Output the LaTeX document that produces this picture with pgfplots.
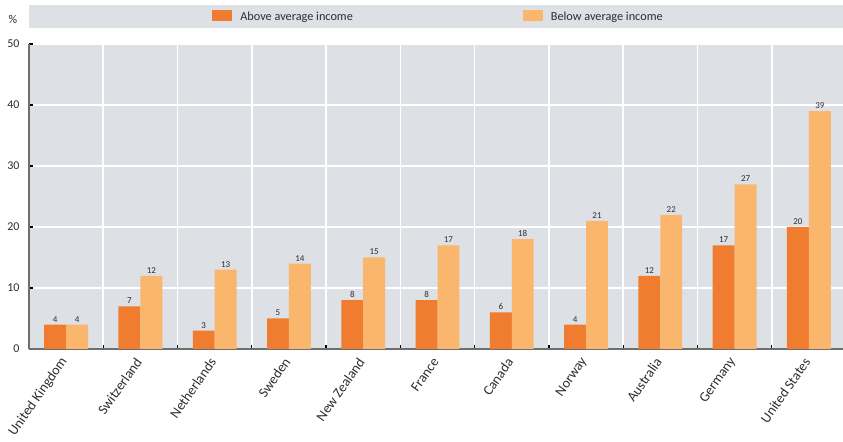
\documentclass[border=0pt]{standalone}
\usepackage{pgfplots}
\pgfplotsset{compat=1.18}
\usepackage{pgfplotstable}
\usepackage{fontspec}
\setmainfont{Carlito}

\definecolor{above}{RGB}{240,124,48}
\definecolor{below}{RGB}{251,182,110}
\definecolor{panel}{RGB}{221,224,229}
\definecolor{axisgray}{RGB}{110,110,110}
\definecolor{labelgray}{RGB}{45,45,50}

% Share of respondents by income group, per country (%)
\pgfplotstableread{
idx above below
0   4   4
1   7   12
2   3   13
3   5   14
4   8   15
5   8   17
6   6   18
7   4   21
8   12  22
9   17  27
10  20  39
}\incometable

\begin{document}
\begin{tikzpicture}
\begin{axis}[
  name=ax,
  scale only axis,
  width=817bp, height=305bp,
  xmin=-0.5, xmax=10.5,
  ymin=0, ymax=50,
  ybar=0pt,
  bar width=0.295,
  clip=false,
  axis background/.style={fill=panel},
  axis x line*=bottom,
  axis y line*=left,
  axis line style={axisgray, line width=1.6bp, -},
  xtick=data,
  xticklabels={United Kingdom,Switzerland,Netherlands,Sweden,New Zealand,France,Canada,Norway,Australia,Germany,United States},
  minor xtick={0.5,1.5,...,9.5},
  ytick={0,10,...,50},
  ymajorgrids, xminorgrids,
  grid style={white, line width=1.6bp},
  minor grid style={white, line width=1.6bp},
  major x tick style={draw=none},
  minor x tick style={black, line width=1.2bp},
  major y tick style={black, line width=1.2bp},
  tick align=inside,
  major tick length=4bp,
  minor tick length=4bp,
  /pgf/number format/assume math mode=true,
  yticklabel style={font=\fontsize{12}{13}\selectfont, text=labelgray, xshift=-6bp},
  xticklabel style={font=\fontsize{14}{15}\selectfont, text=labelgray, rotate=55, anchor=east, xshift=-6bp, yshift=-4.5bp},
  nodes near coords,
  every node near coord/.append style={font=\fontsize{9}{10}\selectfont, text=labelgray, yshift=-1bp},
  legend columns=2,
  legend style={
    at={([xshift=1bp,yshift=27.5bp]rel axis cs:0.5,1)}, anchor=center,
    draw=none, fill=none,
    font=\fontsize{12.3}{13}\selectfont, text=labelgray,
    /tikz/every odd column/.append style={column sep=6bp},
    /tikz/every even column/.append style={column sep=168bp},
  },
  legend image code/.code={\fill[#1] (0bp,-5bp) rectangle (20bp,6bp);},
]
  % legend band across the top
  \fill[panel] ([yshift=16bp]rel axis cs:0,1) rectangle ([yshift=39bp]rel axis cs:1,1);
  \node[font=\fontsize{12}{13}\selectfont, text=labelgray] at ([shift={(-16bp,25bp)}]rel axis cs:0,1) {\%};

  \addplot[fill=above, draw=none] table[x=idx, y=above] {\incometable};
  \addlegendentry{Above average income}
  \addplot[fill=below, draw=none] table[x=idx, y=below] {\incometable};
  \addlegendentry{Below average income}
\end{axis}
\pgfresetboundingbox
\path ([xshift=-29bp,yshift=-93bp]ax.south west) rectangle ([xshift=-3bp,yshift=44bp]ax.north east);
\end{tikzpicture}
\end{document}
